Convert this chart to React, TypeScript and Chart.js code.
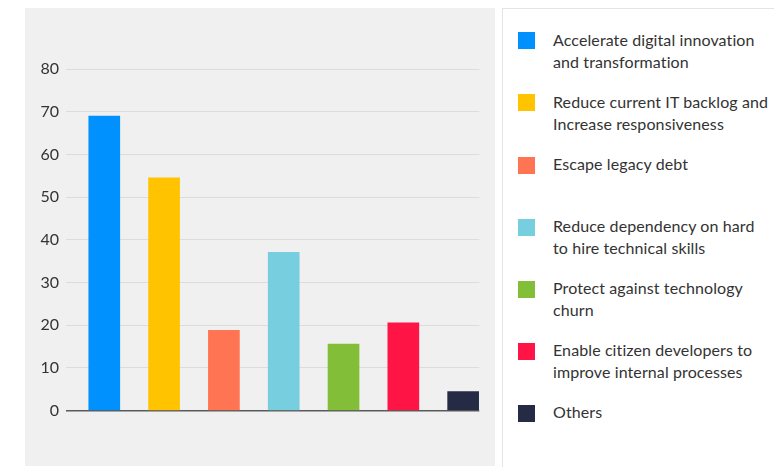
import React, { useEffect, useRef } from "react";
import Chart from "chart.js/auto";

const categories = [
  "Accelerate digital innovation\nand transformation",
  "Reduce current IT backlog and\nIncrease responsiveness",
  "Escape legacy debt",
  "Reduce dependency on hard\nto hire technical skills",
  "Protect against technology\nchurn",
  "Enable citizen developers to\nimprove internal processes",
  "Others",
];
const values = [69, 54.5, 18.8, 37.1, 15.6, 20.6, 4.5];
const colors = ["#0091FF", "#FFC300", "#FF7452", "#76CEDF", "#82BE37", "#FF1446", "#262B45"];
const yTickStep = 10;
const yMax = 80;

export default function App() {
  const ref = useRef<HTMLCanvasElement>(null);
  useEffect(() => {
    const chart = new Chart(ref.current!, {
      type: "bar",
      data: {
        datasets: [
          {
            data: values.map((v, i) => ({ x: i, y: v })),
            backgroundColor: colors,
            barThickness: 31,
            borderWidth: 0,
          },
        ],
      },
      options: {
        animation: false,
        responsive: false,
        maintainAspectRatio: false,
        layout: { padding: { left: 0, right: 15.7, top: 61, bottom: 55.3 } },
        plugins: { legend: { display: false }, tooltip: { enabled: false } },
        scales: {
          x: { type: "linear", min: -0.64, max: 6.27, offset: false, display: false },
          y: {
            min: 0,
            max: yMax,
            afterFit: (s: any) => {
              s.width = 41;
            },
            border: { display: false },
            grid: {
              drawTicks: false,
              color: (ctx: any) => (ctx.tick && ctx.tick.value === 0 ? "#5a5a5a" : "#dcdcdc"),
              lineWidth: (ctx: any) => (ctx.tick && ctx.tick.value === 0 ? 1.5 : 1),
            },
            ticks: {
              stepSize: yTickStep,
              padding: 7,
              color: "#333333",
              font: { family: "Lato", size: 16 },
            },
          },
        },
      },
    } as any);
    return () => chart.destroy();
  }, []);

  return (
    <div style={{ position: "absolute", left: 0, top: 0, width: 774, height: 467, background: "#ffffff", overflow: "hidden" }}>
      <div style={{ position: "absolute", left: 25, top: 8, width: 470, height: 458, background: "#f0f0f0" }}>
        <canvas ref={ref} width={470} height={458} style={{ display: "block", width: 470, height: 458 }} />
      </div>
      <div
        style={{
          position: "absolute",
          left: 502,
          top: 8,
          width: 290,
          height: 480,
          background: "#ffffff",
          border: "1px solid #e4e4e4",
          boxSizing: "border-box",
        }}
      >
        {categories.map((c, i) => (
          <div key={i} style={{ position: "absolute", left: 0, top: 23.3 + 62.1 * i, width: 280 }}>
            <div style={{ position: "absolute", left: 15, top: 0, width: 17, height: 17, background: colors[i] }} />
            <div
              style={{
                position: "absolute",
                left: 50,
                top: -3.5,
                whiteSpace: "pre-line",
                fontFamily: "Lato",
                fontSize: 16,
                letterSpacing: 0.1,
                lineHeight: "22px",
                color: "#333333",
              }}
            >
              {c}
            </div>
          </div>
        ))}
      </div>
    </div>
  );
}
